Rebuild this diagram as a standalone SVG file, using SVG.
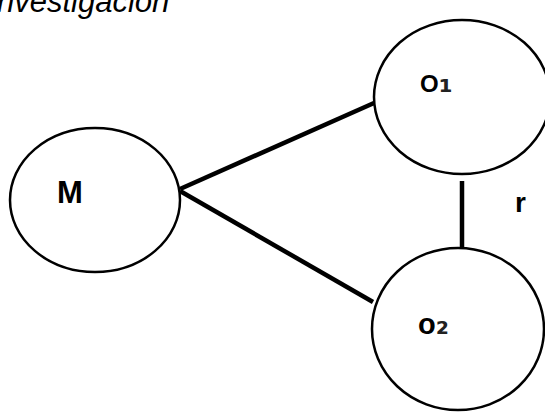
<svg xmlns="http://www.w3.org/2000/svg" width="545" height="412" viewBox="0 0 545 412">
<style>
.node{fill:#fff;stroke:#000;stroke-width:2.5}
.edge{stroke:#000;stroke-width:4.5;fill:none}
.lbl{font-family:"Liberation Sans","DejaVu Sans",Arial,sans-serif;font-weight:bold;fill:#000}
.sub{font-family:"DejaVu Sans",sans-serif;font-weight:bold;fill:#222}
.title{font-family:"Liberation Sans",Arial,sans-serif;font-style:italic;font-size:31px;fill:#000}
</style>
<rect width="545" height="412" fill="#fff"/>
<text class="title" x="-3" y="12">nvestigación</text>
<g id="connectors">
<line class="edge" x1="180" y1="189" x2="374" y2="103"/>
<line class="edge" x1="180" y1="191" x2="373" y2="302"/>
<line class="edge" x1="462" y1="181" x2="462" y2="247"/>
</g>
<g id="node-M">
<ellipse class="node" cx="95" cy="200" rx="85" ry="72"/>
<text class="lbl" x="57" y="203" font-size="31">M</text>
</g>
<g id="node-O1">
<ellipse class="node" cx="462" cy="97" rx="88" ry="77"/>
<text class="lbl" x="420" y="92" font-size="24">O<tspan class="sub" font-size="32" dx="0">₁</tspan></text>
</g>
<g id="node-O2">
<ellipse class="node" cx="458" cy="329" rx="86" ry="81"/>
<text class="lbl" x="418" y="334" font-size="29">o<tspan class="sub" font-size="30" dx="0">₂</tspan></text>
</g>
<g id="label-r">
<text class="lbl" x="515" y="212" font-size="28">r</text>
</g>
</svg>
